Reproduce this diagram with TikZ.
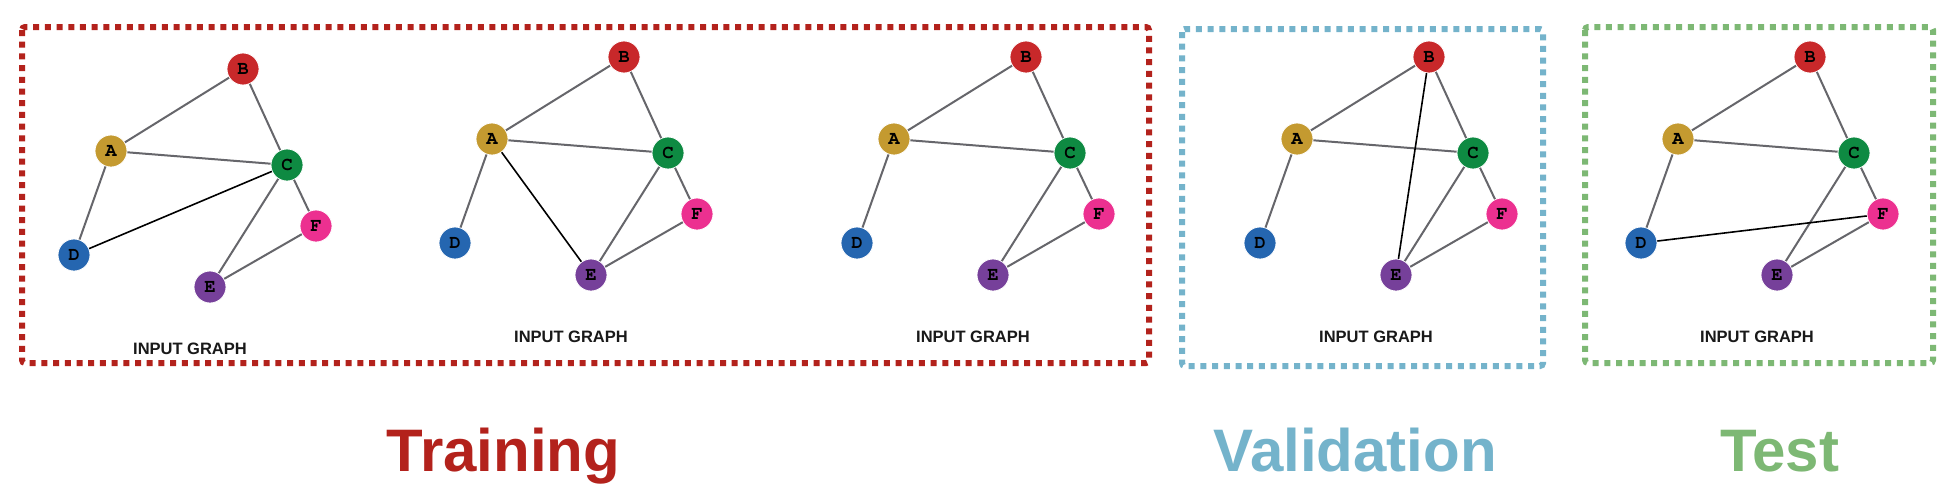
\documentclass[tikz,border=0pt]{standalone}
\usepackage[T1,TU]{fontenc}
\usepackage{fontspec}
\setmainfont{Liberation Sans}
\newcommand{\lettercourier}{\fontencoding{T1}\fontfamily{pcr}\fontseries{b}\fontshape{n}\fontsize{19}{19}\selectfont}
\definecolor{cA}{HTML}{C49A30}
\definecolor{cB}{HTML}{C8282A}
\definecolor{cC}{HTML}{0E8A42}
\definecolor{cD}{HTML}{2566B0}
\definecolor{cE}{HTML}{76409A}
\definecolor{cF}{HTML}{EC3090}
\definecolor{edgegray}{HTML}{66666B}
\definecolor{trainred}{HTML}{B3221C}
\definecolor{valblue}{HTML}{74B3CB}
\definecolor{testgreen}{HTML}{7DB874}
\tikzset{
  gnode/.style={circle,minimum size=32pt,inner sep=0pt,draw=white,line width=0.8pt,
    font=\lettercourier,text=black},
  gedge/.style={draw=edgegray,line width=2pt},
  newedge/.style={draw=black,line width=1.6pt},
  glabel/.style={font=\bfseries\fontsize{16.5}{18}\selectfont,anchor=base,text=black!90},
  splitbox/.style={line width=6pt,dash pattern=on 6pt off 5.7pt,rounded corners=3pt},
  splittitle/.style={font=\bfseries\fontsize{60}{66}\selectfont,anchor=base}
}
\newcommand{\drawgraph}[3]{%
  \begin{scope}[shift={(#2,#3)}]
    \node[gnode,fill=cA] (#1A) at (0,0) {A};
    \node[gnode,fill=cB] (#1B) at (132,-82) {B};
    \node[gnode,fill=cC] (#1C) at (176,14) {C};
    \node[gnode,fill=cD] (#1D) at (-37,104) {D};
    \node[gnode,fill=cE] (#1E) at (99,136) {E};
    \node[gnode,fill=cF] (#1F) at (205,75) {F};
    \node[glabel] (#1L) at (79,203) {INPUT GRAPH};
  \end{scope}
  \draw[gedge] (#1A) -- (#1B);
  \draw[gedge] (#1A) -- (#1C);
  \draw[gedge] (#1A) -- (#1D);
  \draw[gedge] (#1B) -- (#1C);
  \draw[gedge] (#1C) -- (#1E);
  \draw[gedge] (#1C) -- (#1F);
  \draw[gedge] (#1E) -- (#1F);
}
\begin{document}
\begin{tikzpicture}[x=1pt,y=-1pt]
  \useasboundingbox[fill=white] (0,0) rectangle (1954,498);
  % split boxes
  \draw[splitbox,draw=trainred] (22,27) rectangle (1149,363);
  \draw[splitbox,draw=valblue] (1182,29) rectangle (1543,366);
  \draw[splitbox,draw=testgreen] (1585,27) rectangle (1933,363);
  % graphs
  \drawgraph{ga}{111}{151}
  \drawgraph{gb}{492}{139}
  \drawgraph{gc}{894}{139}
  \drawgraph{gd}{1297}{139}
  \drawgraph{ge}{1678}{139}
  % sampled extra edges
  \draw[newedge] (gaD) -- (gaC);
  \draw[newedge] (gbA) -- (gbE);
  \draw[newedge] (gdB) -- (gdE);
  \draw[newedge] (geD) -- (geF);
  % titles
  \node[splittitle,text=trainred] (ttrain) at (503.5,471) {Training};
  \node[splittitle,text=valblue] (tval) at (1355,471) {Validation};
  \node[splittitle,text=testgreen] (ttest) at (1779.5,471) {Test};
\end{tikzpicture}
\end{document}
